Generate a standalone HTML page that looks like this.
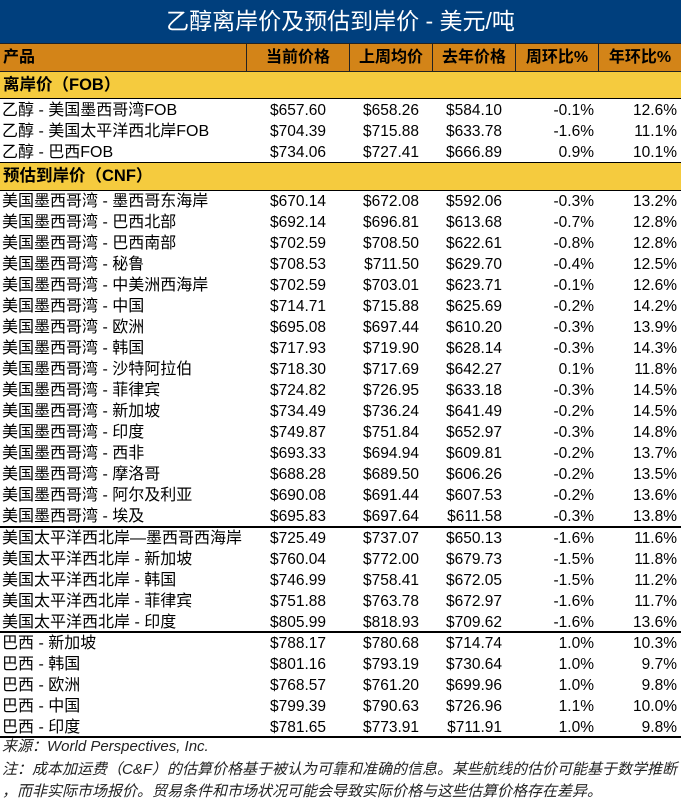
<!DOCTYPE html>
<html><head><meta charset="utf-8"><style>
*{margin:0;padding:0;box-sizing:border-box}
body{width:681px;height:805px;background:#fff;font-family:"Liberation Sans","Noto Sans CJK SC",sans-serif;color:#000;overflow:hidden;position:relative}
.title{position:absolute;left:0;top:0;width:681px;height:43px;background:#003F7D;color:#fff;font-size:23px;text-align:center;line-height:42px}
.hdr{position:absolute;left:0;top:43px;width:681px;height:29px;background:#D38418;border-top:1px solid #222;border-bottom:1px solid #222;display:flex;font-weight:bold;font-size:16px;line-height:27px}
.hdr div{border-left:1px solid #222;text-align:center}
.hdr div:first-child{border-left:none;text-align:left;padding-left:3px}
.sec{position:absolute;left:0;width:681px;height:27px;background:#F5CB3E;font-weight:bold;font-size:16.5px;line-height:27px;padding-left:3px;border-bottom:1.5px solid #000}
.row{position:absolute;left:0;width:681px;height:21px;display:flex;font-size:15.5px;line-height:23px}
.row div{text-align:right}
.row div:first-child{text-align:left;padding-left:2px;font-size:16px;white-space:nowrap}
.c0{width:246px}.c1{width:103px;padding-right:23px}.c2{width:83px;padding-right:13px}.c3{width:83px;padding-right:13px}.c4{width:83px;padding-right:4px}.c5{width:83px;padding-right:4px}
.hdr .c1,.hdr .c2,.hdr .c3,.hdr .c4,.hdr .c5{padding-right:0}
.line{position:absolute;left:0;width:681px;height:1.5px;background:#000}
.note{position:absolute;left:2px;font-style:italic;font-size:15px;color:#222;line-height:20px;white-space:nowrap}
</style></head><body>
<div class="title">乙醇离岸价及预估到岸价 - 美元/吨</div>
<div class="hdr"><div class="c0">产品</div><div class="c1">当前价格</div><div class="c2">上周均价</div><div class="c3">去年价格</div><div class="c4">周环比%</div><div class="c5">年环比%</div></div>
<div class="sec" style="top:72px">离岸价（FOB）</div>
<div class="row" style="top:99px"><div class="c0">乙醇 - 美国墨西哥湾FOB</div><div class="c1">$657.60</div><div class="c2">$658.26</div><div class="c3">$584.10</div><div class="c4">-0.1%</div><div class="c5">12.6%</div></div>
<div class="row" style="top:120px"><div class="c0">乙醇 - 美国太平洋西北岸FOB</div><div class="c1">$704.39</div><div class="c2">$715.88</div><div class="c3">$633.78</div><div class="c4">-1.6%</div><div class="c5">11.1%</div></div>
<div class="row" style="top:141px"><div class="c0">乙醇 - 巴西FOB</div><div class="c1">$734.06</div><div class="c2">$727.41</div><div class="c3">$666.89</div><div class="c4">0.9%</div><div class="c5">10.1%</div></div>
<div class="sec" style="top:162px;border-top:1.5px solid #000;height:29px">预估到岸价（CNF）</div>
<div class="row" style="top:190px"><div class="c0">美国墨西哥湾 - 墨西哥东海岸</div><div class="c1">$670.14</div><div class="c2">$672.08</div><div class="c3">$592.06</div><div class="c4">-0.3%</div><div class="c5">13.2%</div></div>
<div class="row" style="top:211px"><div class="c0">美国墨西哥湾 - 巴西北部</div><div class="c1">$692.14</div><div class="c2">$696.81</div><div class="c3">$613.68</div><div class="c4">-0.7%</div><div class="c5">12.8%</div></div>
<div class="row" style="top:232px"><div class="c0">美国墨西哥湾 - 巴西南部</div><div class="c1">$702.59</div><div class="c2">$708.50</div><div class="c3">$622.61</div><div class="c4">-0.8%</div><div class="c5">12.8%</div></div>
<div class="row" style="top:253px"><div class="c0">美国墨西哥湾 - 秘鲁</div><div class="c1">$708.53</div><div class="c2">$711.50</div><div class="c3">$629.70</div><div class="c4">-0.4%</div><div class="c5">12.5%</div></div>
<div class="row" style="top:274px"><div class="c0">美国墨西哥湾 - 中美洲西海岸</div><div class="c1">$702.59</div><div class="c2">$703.01</div><div class="c3">$623.71</div><div class="c4">-0.1%</div><div class="c5">12.6%</div></div>
<div class="row" style="top:295px"><div class="c0">美国墨西哥湾 - 中国</div><div class="c1">$714.71</div><div class="c2">$715.88</div><div class="c3">$625.69</div><div class="c4">-0.2%</div><div class="c5">14.2%</div></div>
<div class="row" style="top:316px"><div class="c0">美国墨西哥湾 - 欧洲</div><div class="c1">$695.08</div><div class="c2">$697.44</div><div class="c3">$610.20</div><div class="c4">-0.3%</div><div class="c5">13.9%</div></div>
<div class="row" style="top:337px"><div class="c0">美国墨西哥湾 - 韩国</div><div class="c1">$717.93</div><div class="c2">$719.90</div><div class="c3">$628.14</div><div class="c4">-0.3%</div><div class="c5">14.3%</div></div>
<div class="row" style="top:358px"><div class="c0">美国墨西哥湾 - 沙特阿拉伯</div><div class="c1">$718.30</div><div class="c2">$717.69</div><div class="c3">$642.27</div><div class="c4">0.1%</div><div class="c5">11.8%</div></div>
<div class="row" style="top:379px"><div class="c0">美国墨西哥湾 - 菲律宾</div><div class="c1">$724.82</div><div class="c2">$726.95</div><div class="c3">$633.18</div><div class="c4">-0.3%</div><div class="c5">14.5%</div></div>
<div class="row" style="top:400px"><div class="c0">美国墨西哥湾 - 新加坡</div><div class="c1">$734.49</div><div class="c2">$736.24</div><div class="c3">$641.49</div><div class="c4">-0.2%</div><div class="c5">14.5%</div></div>
<div class="row" style="top:421px"><div class="c0">美国墨西哥湾 - 印度</div><div class="c1">$749.87</div><div class="c2">$751.84</div><div class="c3">$652.97</div><div class="c4">-0.3%</div><div class="c5">14.8%</div></div>
<div class="row" style="top:442px"><div class="c0">美国墨西哥湾 - 西非</div><div class="c1">$693.33</div><div class="c2">$694.94</div><div class="c3">$609.81</div><div class="c4">-0.2%</div><div class="c5">13.7%</div></div>
<div class="row" style="top:463px"><div class="c0">美国墨西哥湾 - 摩洛哥</div><div class="c1">$688.28</div><div class="c2">$689.50</div><div class="c3">$606.26</div><div class="c4">-0.2%</div><div class="c5">13.5%</div></div>
<div class="row" style="top:484px"><div class="c0">美国墨西哥湾 - 阿尔及利亚</div><div class="c1">$690.08</div><div class="c2">$691.44</div><div class="c3">$607.53</div><div class="c4">-0.2%</div><div class="c5">13.6%</div></div>
<div class="row" style="top:505px"><div class="c0">美国墨西哥湾 - 埃及</div><div class="c1">$695.83</div><div class="c2">$697.64</div><div class="c3">$611.58</div><div class="c4">-0.3%</div><div class="c5">13.8%</div></div>
<div class="line" style="top:526px"></div>
<div class="row" style="top:527px"><div class="c0">美国太平洋西北岸—墨西哥西海岸</div><div class="c1">$725.49</div><div class="c2">$737.07</div><div class="c3">$650.13</div><div class="c4">-1.6%</div><div class="c5">11.6%</div></div>
<div class="row" style="top:548px"><div class="c0">美国太平洋西北岸 - 新加坡</div><div class="c1">$760.04</div><div class="c2">$772.00</div><div class="c3">$679.73</div><div class="c4">-1.5%</div><div class="c5">11.8%</div></div>
<div class="row" style="top:569px"><div class="c0">美国太平洋西北岸 - 韩国</div><div class="c1">$746.99</div><div class="c2">$758.41</div><div class="c3">$672.05</div><div class="c4">-1.5%</div><div class="c5">11.2%</div></div>
<div class="row" style="top:590px"><div class="c0">美国太平洋西北岸 - 菲律宾</div><div class="c1">$751.88</div><div class="c2">$763.78</div><div class="c3">$672.97</div><div class="c4">-1.6%</div><div class="c5">11.7%</div></div>
<div class="row" style="top:611px"><div class="c0">美国太平洋西北岸 - 印度</div><div class="c1">$805.99</div><div class="c2">$818.93</div><div class="c3">$709.62</div><div class="c4">-1.6%</div><div class="c5">13.6%</div></div>
<div class="line" style="top:631px"></div>
<div class="row" style="top:632px"><div class="c0">巴西 - 新加坡</div><div class="c1">$788.17</div><div class="c2">$780.68</div><div class="c3">$714.74</div><div class="c4">1.0%</div><div class="c5">10.3%</div></div>
<div class="row" style="top:653px"><div class="c0">巴西 - 韩国</div><div class="c1">$801.16</div><div class="c2">$793.19</div><div class="c3">$730.64</div><div class="c4">1.0%</div><div class="c5">9.7%</div></div>
<div class="row" style="top:674px"><div class="c0">巴西 - 欧洲</div><div class="c1">$768.57</div><div class="c2">$761.20</div><div class="c3">$699.96</div><div class="c4">1.0%</div><div class="c5">9.8%</div></div>
<div class="row" style="top:695px"><div class="c0">巴西 - 中国</div><div class="c1">$799.39</div><div class="c2">$790.63</div><div class="c3">$726.96</div><div class="c4">1.1%</div><div class="c5">10.0%</div></div>
<div class="row" style="top:716px"><div class="c0">巴西 - 印度</div><div class="c1">$781.65</div><div class="c2">$773.91</div><div class="c3">$711.91</div><div class="c4">1.0%</div><div class="c5">9.8%</div></div>
<div class="line" style="top:736px"></div>
<div class="note" style="top:737px">来源：World Perspectives, Inc.</div>
<div class="note" style="top:760px">注：成本加运费（C&amp;F）的估算价格基于被认为可靠和准确的信息。某些航线的估价可能基于数学推断</div>
<div class="note" style="top:782px">，而非实际市场报价。贸易条件和市场状况可能会导致实际价格与这些估算价格存在差异。</div>
</body></html>
